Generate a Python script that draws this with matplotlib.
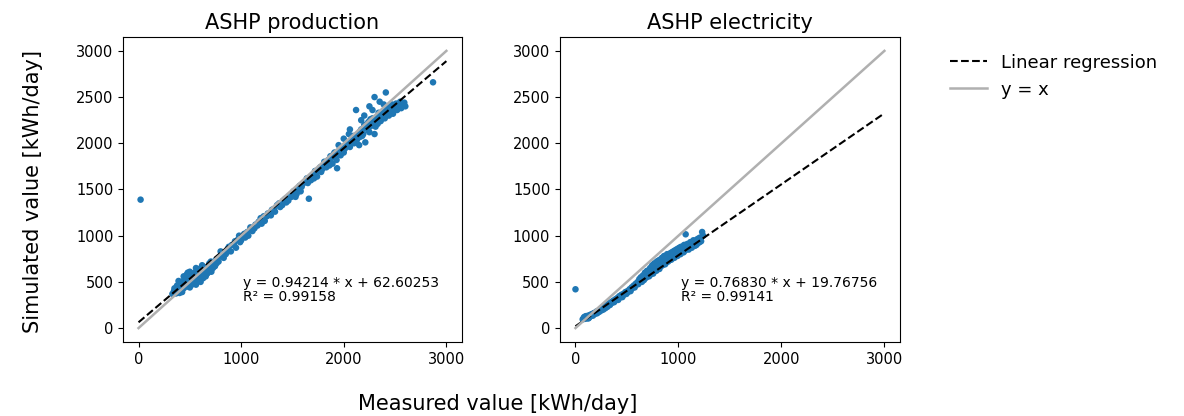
import numpy as np
import matplotlib.pyplot as plt

# ASHP production: (measured, simulated) in kWh/day
prod_points = [
    (330, 370), (345, 400), (360, 430), (365, 375), (380, 440), (390, 400), (395, 470), (405, 420),
    (410, 480), (420, 450), (425, 390), (435, 500), (440, 430), (450, 470), (455, 540), (465, 450),
    (470, 510), (480, 470), (485, 560), (495, 500), (500, 440), (510, 530), (515, 580), (525, 480),
    (530, 520), (540, 560), (545, 600), (555, 510), (560, 470), (570, 550), (575, 600), (585, 520),
    (590, 640), (600, 560), (605, 500), (615, 580), (620, 620), (630, 540), (640, 600), (645, 650),
    (655, 560), (660, 620), (670, 590), (675, 660), (685, 610), (690, 700), (700, 640), (710, 610),
    (715, 700), (725, 650), (735, 690), (745, 670), (755, 740), (440, 560), (470, 580), (500, 610),
    (390, 510), (350, 430), (375, 460), (400, 380), (415, 500), (430, 460), (445, 520), (460, 480),
    (475, 530), (490, 450), (505, 560), (520, 470), (535, 510), (550, 580), (565, 520), (580, 620),
    (595, 540), (610, 590), (625, 560), (635, 640), (650, 600), (665, 650), (680, 630), (695, 660),
    (705, 720), (720, 700), (740, 720), (760, 700), (560, 650), (620, 680), (480, 600),
    (780, 720), (800, 780), (830, 760), (860, 820), (880, 880), (900, 830), (930, 900), (950, 870),
    (970, 960), (990, 930), (1010, 1000), (1040, 980), (1060, 1040), (1090, 1090), (1110, 1050),
    (1140, 1120), (1170, 1150), (1200, 1130), (1220, 1210), (1260, 1240), (1290, 1220),
    (1320, 1290), (1350, 1330), (1380, 1310), (1410, 1380), (1440, 1360), (1470, 1430),
    (1500, 1460), (1530, 1420), (1560, 1500), (1590, 1530), (800, 830), (850, 800), (870, 860),
    (910, 900), (940, 940), (980, 1000), (1000, 950), (1030, 1020), (1070, 1000), (1100, 1080),
    (1130, 1080), (1160, 1110), (1190, 1190), (1230, 1160), (1250, 1210), (1300, 1280),
    (1330, 1260), (1370, 1350), (1400, 1330), (1430, 1400), (1460, 1380), (1490, 1420),
    (1510, 1480), (1540, 1450), (1570, 1540), (1600, 1560), (1580, 1480),
    (1620, 1580), (1640, 1620), (1660, 1400), (1680, 1600), (1700, 1660), (1720, 1700),
    (1740, 1640), (1760, 1720), (1780, 1690), (1800, 1760), (1810, 1800), (1830, 1740),
    (1850, 1820), (1870, 1860), (1890, 1780), (1900, 1880), (1920, 1850), (1935, 1730),
    (1950, 1910), (1970, 1870), (1990, 1950), (2000, 1900), (2020, 1980), (2040, 2010),
    (2060, 1960), (2080, 2050), (2100, 2000), (2110, 2080), (2120, 2360), (2130, 2040),
    (2150, 2110), (2160, 2070), (2170, 2150), (2190, 2100), (2200, 2200), (2210, 2010),
    (2230, 2160), (2240, 2230), (2250, 2120), (2260, 2260), (2270, 2190), (2290, 2240),
    (2300, 2500), (2310, 2180), (2320, 2280), (2330, 2210), (2350, 2300), (2360, 2240),
    (2380, 2330), (2400, 2270), (2410, 2550), (2420, 2350), (2440, 2300), (2460, 2380),
    (2480, 2320), (2500, 2400), (2520, 2360), (2540, 2420), (2560, 2380), (2580, 2420),
    (2600, 2400), (2250, 2400), (2350, 2450), (2200, 2300), (2150, 1980), (2050, 2100),
    (1950, 1980), (2000, 2050), (2300, 2100), (1650, 1570), (1690, 1640), (1710, 1620),
    (1730, 1680), (1750, 1700), (1770, 1740), (1790, 1720), (1820, 1780), (1840, 1790),
    (1860, 1760), (1880, 1840), (1910, 1900), (1930, 1820), (1960, 1900), (1980, 1930),
    (2010, 1940), (2030, 1990), (2050, 1980), (2070, 2020), (2090, 2080), (2110, 2030),
    (2140, 2080), (2160, 2130), (2180, 2080), (2200, 2160), (2220, 2200), (2240, 2140),
    (2260, 2200), (2280, 2270), (2300, 2220), (2320, 2250), (2340, 2330), (2370, 2290),
    (2390, 2350), (2410, 2300), (2430, 2390), (2450, 2340), (2470, 2420), (2490, 2370),
    (2510, 2430), (2530, 2390), (2550, 2450), (2570, 2410), (2590, 2440), (2170, 2250),
    (2280, 2360), (2390, 2420), (2060, 2150), (2870, 2660), (20, 1390),
]

# ASHP electricity: (measured, simulated) in kWh/day
elec_points = [
    (0, 420), (70, 95), (80, 110), (90, 100), (95, 125), (100, 115), (110, 105), (115, 130),
    (120, 120), (130, 110), (135, 140), (140, 125), (150, 130), (155, 150), (160, 140), (170, 135),
    (175, 160), (180, 150), (190, 155), (200, 170), (210, 160), (220, 180), (230, 175), (240, 195),
    (250, 190), (260, 210), (270, 200), (280, 225), (290, 215), (300, 240), (310, 230),
    (320, 255), (335, 250), (350, 270), (360, 285), (375, 280), (390, 300), (400, 310), (415, 305),
    (430, 330), (440, 340), (455, 335), (470, 360), (480, 375), (495, 370), (510, 390), (520, 405),
    (535, 400), (550, 430), (560, 445), (575, 440), (590, 470), (600, 490), (610, 475), (625, 505),
    (640, 520), (650, 545), (660, 530), (670, 560), (680, 590), (690, 575), (700, 560), (710, 600),
    (720, 620), (730, 580), (740, 640), (750, 610), (760, 660), (770, 630), (780, 700), (790, 720),
    (800, 650), (810, 690), (820, 740), (830, 670), (840, 760), (850, 710), (860, 780), (870, 690),
    (880, 750), (890, 800), (900, 720), (910, 770), (920, 810), (930, 740), (940, 790), (950, 830),
    (960, 760), (970, 810), (980, 850), (990, 780), (1000, 830), (1010, 870), (1020, 800),
    (1030, 850), (1040, 880), (1050, 820), (1060, 870), (1070, 1015), (1080, 860), (1090, 900),
    (1100, 850), (1110, 880), (1120, 920), (1130, 870), (1140, 900), (1150, 940), (1160, 890),
    (1170, 930), (1180, 960), (1190, 920), (1200, 950), (1210, 980), (1230, 1040), (1220, 940),
    (85, 120), (105, 130), (125, 105), (145, 140), (165, 150), (185, 165), (205, 180), (225, 190),
    (245, 205), (265, 220), (285, 230), (305, 250), (325, 265), (345, 280), (365, 295), (385, 310),
    (405, 325), (425, 345), (445, 360), (465, 370), (485, 390), (505, 400), (525, 420), (545, 440),
    (565, 460), (585, 480), (605, 500), (620, 530), (635, 550), (645, 500), (655, 570), (665, 520),
    (675, 600), (685, 545), (695, 620), (705, 590), (715, 560), (725, 650), (735, 600), (745, 680),
    (755, 590), (765, 700), (775, 660), (785, 620), (795, 690), (805, 730), (815, 640), (825, 700),
    (835, 730), (845, 680), (855, 750), (865, 730), (875, 700), (885, 770), (895, 750), (905, 790),
    (915, 740), (925, 780), (935, 820), (945, 760), (955, 800), (965, 840), (975, 790), (985, 820),
    (995, 860), (1005, 810), (1015, 840), (1025, 880), (1035, 830), (1045, 860), (1055, 900),
    (1065, 840), (1075, 880), (1085, 910), (1095, 870), (1105, 890), (1115, 930), (1125, 900),
    (1135, 920), (1145, 950), (1155, 910), (1165, 940), (1175, 900), (1185, 940), (1195, 970),
    (1205, 930), (1215, 960), (1240, 1000),
]

titles = ['ASHP production', 'ASHP electricity']
slopes = [0.94214, 0.76830]
intercepts = [62.60253, 19.76756]
r2 = [0.99158, 0.99141]

fig = plt.figure(figsize=(11.84, 4.16), dpi=100)
ax1 = fig.add_axes([0.104, 0.178, 0.286, 0.733])
ax2 = fig.add_axes([0.473, 0.178, 0.287, 0.733])

xline = np.array([0, 3000])
for ax, pts, title, a, b, r in zip([ax1, ax2], [prod_points, elec_points], titles,
                                   slopes, intercepts, r2):
    xm, ys = zip(*pts)
    ax.scatter(xm, ys, s=22, color='#1f77b4', edgecolors='none')
    ax.plot(xline, a * xline + b, 'k--', lw=1.5, label='Linear regression')
    ax.plot(xline, xline, color='#b0b0b0', lw=1.8, label='y = x')
    ax.set_xlim(-150, 3150)
    ax.set_ylim(-150, 3150)
    ax.set_xticks([0, 1000, 2000, 3000])
    ax.set_yticks(range(0, 3001, 500))
    ax.tick_params(labelsize=10.5)
    ax.set_title(title, fontsize=15)
    ax.text(1020, 260, f'y = {a:.5f} * x + {b:.5f}\nR\u00b2 = {r:.5f}', fontsize=10,
            va='bottom', ha='left', linespacing=1.0)

handles, labels = ax1.get_legend_handles_labels()
fig.legend(handles, labels, loc='upper left', bbox_to_anchor=(0.789, 0.91), frameon=False,
           fontsize=13)
fig.text(0.42, 0.03, 'Measured value [kWh/day]', ha='center', va='center', fontsize=15)
fig.text(0.028, 0.54, 'Simulated value [kWh/day]', ha='center', va='center', rotation=90,
         fontsize=15)

fig.savefig('out.png', dpi=100)
